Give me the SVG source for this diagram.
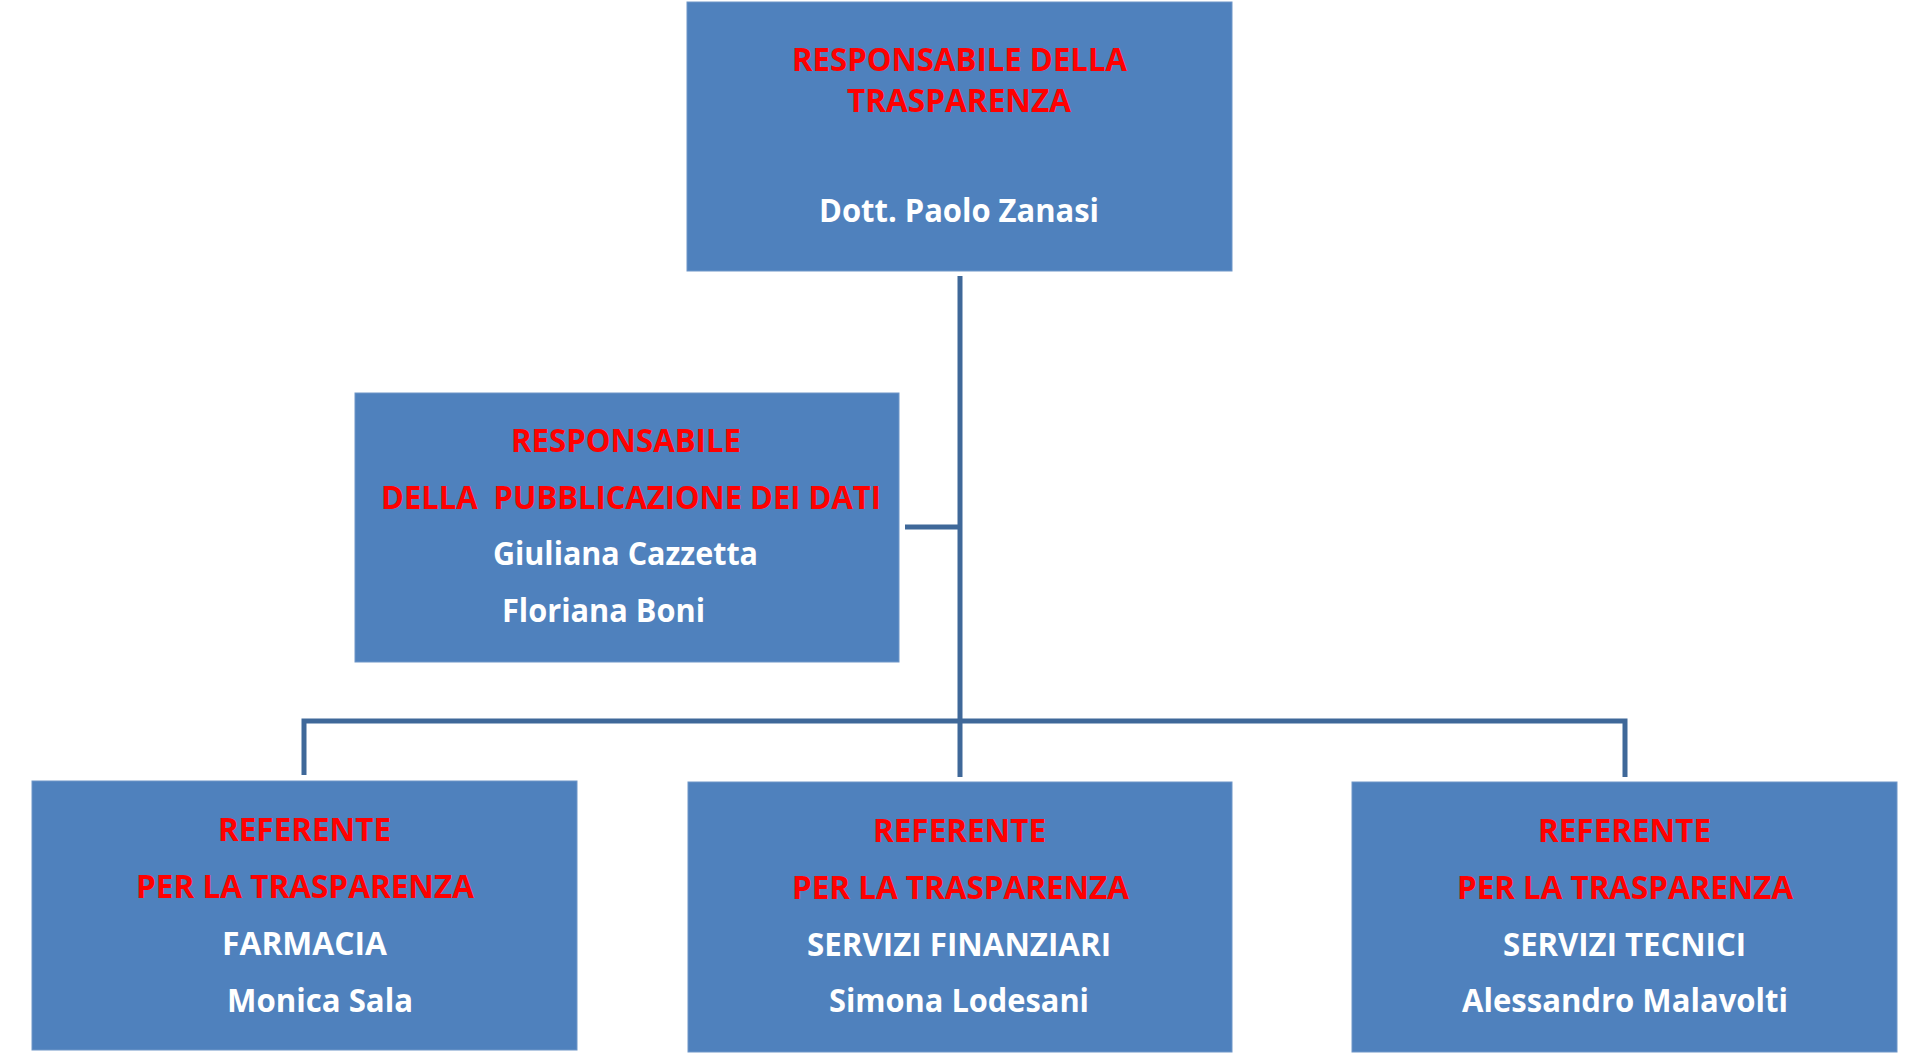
<svg xmlns="http://www.w3.org/2000/svg" width="1917" height="1058" viewBox="0 0 1917 1058">
<style>
.box{fill:#4F81BD;stroke:#6E96C8;stroke-width:1}
.t{font-family:"Open Sans","Liberation Sans",sans-serif;font-weight:bold;font-size:32px;white-space:pre}
.r{fill:#FF0000}
.w{fill:#FFFFFF}
.c{fill:none;stroke:#3F6899;stroke-width:5;stroke-linejoin:miter;stroke-linecap:butt}
</style>
<rect width="1917" height="1058" fill="#FFFFFF"/>
<g id="connectors">
<path class="c" d="M960,276 V777"/>
<path class="c" d="M905,527 H960"/>
<path class="c" d="M304,775 V721 H1625 V777"/>
</g>
<g id="node-top">
<rect class="box" x="687" y="2" width="545" height="269"/>
<text class="t r" x="792" y="71" textLength="335" lengthAdjust="spacingAndGlyphs">RESPONSABILE DELLA</text>
<text class="t r" x="847" y="112" textLength="224" lengthAdjust="spacingAndGlyphs">TRASPARENZA</text>
<text class="t w" x="819" y="222" textLength="280" lengthAdjust="spacingAndGlyphs">Dott. Paolo Zanasi</text>
</g>
<g id="node-pubblicazione">
<rect class="box" x="355" y="393" width="544" height="269"/>
<text class="t r" x="511" y="452" textLength="230" lengthAdjust="spacingAndGlyphs">RESPONSABILE</text>
<text class="t r" x="381" y="509" textLength="500" lengthAdjust="spacingAndGlyphs">DELLA  PUBBLICAZIONE DEI DATI</text>
<text class="t w" x="493" y="565" textLength="265" lengthAdjust="spacingAndGlyphs">Giuliana Cazzetta</text>
<text class="t w" x="502" y="622" textLength="203" lengthAdjust="spacingAndGlyphs">Floriana Boni</text>
</g>
<g id="node-farmacia">
<rect class="box" x="32" y="781" width="545" height="269"/>
<text class="t r" x="218" y="841" textLength="173" lengthAdjust="spacingAndGlyphs">REFERENTE</text>
<text class="t r" x="136" y="898" textLength="338" lengthAdjust="spacingAndGlyphs">PER LA TRASPARENZA</text>
<text class="t w" x="222" y="955" textLength="165" lengthAdjust="spacingAndGlyphs">FARMACIA</text>
<text class="t w" x="227" y="1012" textLength="186" lengthAdjust="spacingAndGlyphs">Monica Sala</text>
</g>
<g id="node-finanziari">
<rect class="box" x="688" y="782" width="544" height="270"/>
<text class="t r" x="873" y="842" textLength="173" lengthAdjust="spacingAndGlyphs">REFERENTE</text>
<text class="t r" x="792" y="899" textLength="337" lengthAdjust="spacingAndGlyphs">PER LA TRASPARENZA</text>
<text class="t w" x="807" y="956" textLength="304" lengthAdjust="spacingAndGlyphs">SERVIZI FINANZIARI</text>
<text class="t w" x="829" y="1012" textLength="260" lengthAdjust="spacingAndGlyphs">Simona Lodesani</text>
</g>
<g id="node-tecnici">
<rect class="box" x="1352" y="782" width="545" height="270"/>
<text class="t r" x="1538" y="842" textLength="173" lengthAdjust="spacingAndGlyphs">REFERENTE</text>
<text class="t r" x="1457" y="899" textLength="336" lengthAdjust="spacingAndGlyphs">PER LA TRASPARENZA</text>
<text class="t w" x="1503" y="956" textLength="243" lengthAdjust="spacingAndGlyphs">SERVIZI TECNICI</text>
<text class="t w" x="1462" y="1012" textLength="326" lengthAdjust="spacingAndGlyphs">Alessandro Malavolti</text>
</g>
</svg>
